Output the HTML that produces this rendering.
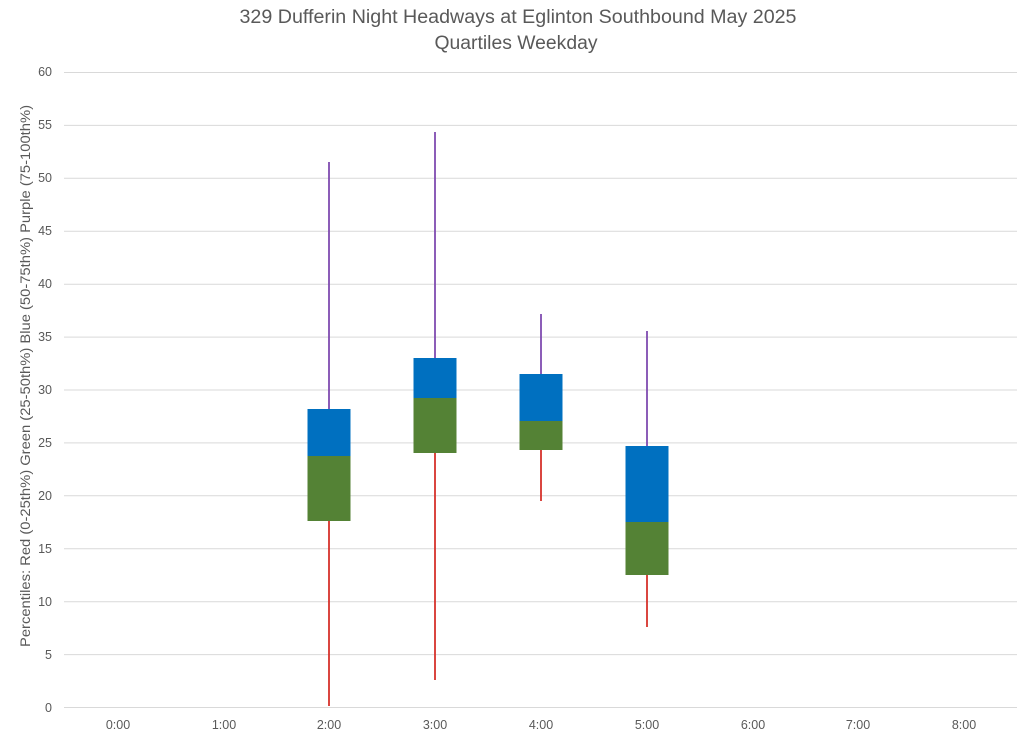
<!DOCTYPE html>
<html>
<head>
<meta charset="utf-8">
<style>
html,body{margin:0;padding:0;background:#fff;}
svg{display:block;}
text{font-family:"Liberation Sans",sans-serif;fill:#595959;}
</style>
</head>
<body>
<svg width="1024" height="738" viewBox="0 0 1024 738" xmlns="http://www.w3.org/2000/svg">
<rect x="0" y="0" width="1024" height="738" fill="#fff"/>
<!-- Title -->
<text x="518" y="23" font-size="19" text-anchor="middle" textLength="557" lengthAdjust="spacingAndGlyphs">329 Dufferin Night Headways at Eglinton Southbound May 2025</text>
<text x="516" y="49" font-size="19" text-anchor="middle" textLength="163" lengthAdjust="spacingAndGlyphs">Quartiles Weekday</text>

<!-- Gridlines -->
<g stroke="#d9d9d9" stroke-width="1">
<line x1="64" x2="1017" y1="707.5" y2="707.5"/>
<line x1="64" x2="1017" y1="654.6" y2="654.6"/>
<line x1="64" x2="1017" y1="601.7" y2="601.7"/>
<line x1="64" x2="1017" y1="548.8" y2="548.8"/>
<line x1="64" x2="1017" y1="495.8" y2="495.8"/>
<line x1="64" x2="1017" y1="442.9" y2="442.9"/>
<line x1="64" x2="1017" y1="390.0" y2="390.0"/>
<line x1="64" x2="1017" y1="337.1" y2="337.1"/>
<line x1="64" x2="1017" y1="284.2" y2="284.2"/>
<line x1="64" x2="1017" y1="231.3" y2="231.3"/>
<line x1="64" x2="1017" y1="178.3" y2="178.3"/>
<line x1="64" x2="1017" y1="125.4" y2="125.4"/>
<line x1="64" x2="1017" y1="72.5" y2="72.5"/>
</g>

<!-- Y tick labels -->
<g font-size="12.5" text-anchor="end">
<text x="52" y="712">0</text>
<text x="52" y="659">5</text>
<text x="52" y="606">10</text>
<text x="52" y="553">15</text>
<text x="52" y="500">20</text>
<text x="52" y="447">25</text>
<text x="52" y="394">30</text>
<text x="52" y="341">35</text>
<text x="52" y="288">40</text>
<text x="52" y="235">45</text>
<text x="52" y="182">50</text>
<text x="52" y="129">55</text>
<text x="52" y="76">60</text>
</g>

<!-- X tick labels -->
<g font-size="12.5" text-anchor="middle">
<text x="118" y="729">0:00</text>
<text x="224" y="729">1:00</text>
<text x="329" y="729">2:00</text>
<text x="435" y="729">3:00</text>
<text x="541" y="729">4:00</text>
<text x="647" y="729">5:00</text>
<text x="753" y="729">6:00</text>
<text x="858" y="729">7:00</text>
<text x="964" y="729">8:00</text>
</g>

<!-- Y axis title -->
<text transform="translate(30,376) rotate(-90)" x="0" y="0" font-size="13.5" text-anchor="middle" textLength="542" lengthAdjust="spacingAndGlyphs">Percentiles:  Red (0-25th%)  Green (25-50th%)  Blue (50-75th%)  Purple (75-100th%)</text>

<!-- Whiskers -->
<g stroke-width="1.8">
<line x1="329" x2="329" y1="162" y2="409" stroke="#7f4bb0"/>
<line x1="329" x2="329" y1="521" y2="706" stroke="#d6312b"/>
<line x1="435" x2="435" y1="132" y2="358" stroke="#7f4bb0"/>
<line x1="435" x2="435" y1="453" y2="680" stroke="#d6312b"/>
<line x1="541" x2="541" y1="314" y2="374" stroke="#7f4bb0"/>
<line x1="541" x2="541" y1="450" y2="501" stroke="#d6312b"/>
<line x1="647" x2="647" y1="331" y2="446" stroke="#7f4bb0"/>
<line x1="647" x2="647" y1="575" y2="627" stroke="#d6312b"/>
</g>

<!-- Boxes -->
<g>
<rect x="307.5" y="409" width="43" height="47" fill="#0070c0"/>
<rect x="307.5" y="456" width="43" height="65" fill="#548235"/>
<rect x="413.5" y="358" width="43" height="40" fill="#0070c0"/>
<rect x="413.5" y="398" width="43" height="55" fill="#548235"/>
<rect x="519.5" y="374" width="43" height="47" fill="#0070c0"/>
<rect x="519.5" y="421" width="43" height="29" fill="#548235"/>
<rect x="625.5" y="446" width="43" height="76" fill="#0070c0"/>
<rect x="625.5" y="522" width="43" height="53" fill="#548235"/>
</g>
</svg>
</body>
</html>
